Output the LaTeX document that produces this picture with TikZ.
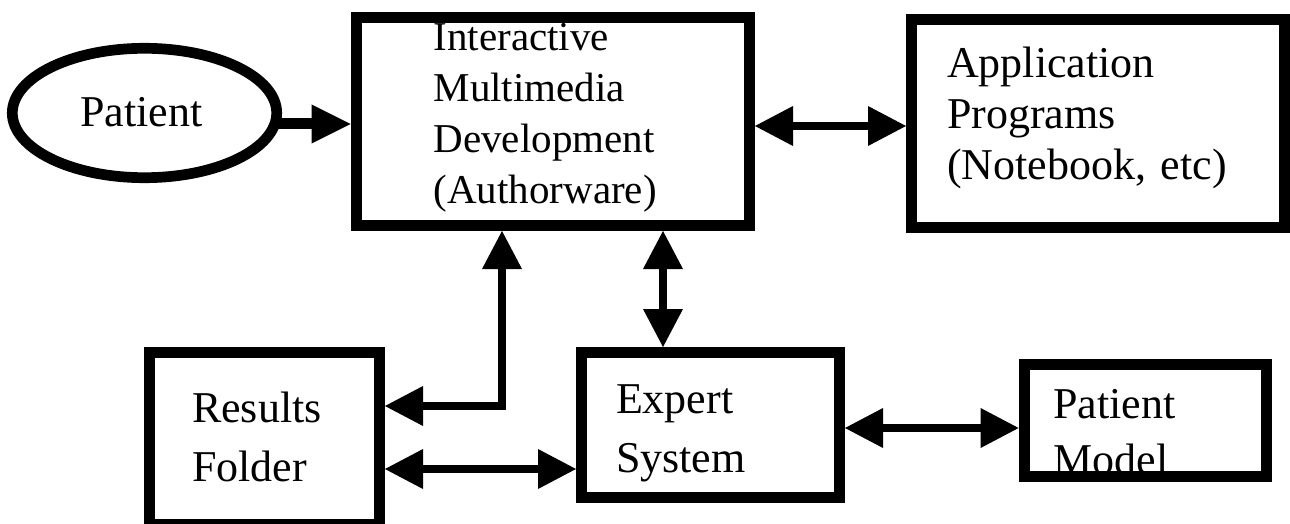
\documentclass[tikz,border=0pt]{standalone}
\usepackage{fontspec}
\setmainfont{Liberation Serif}
\usetikzlibrary{arrows.meta,shapes.geometric}

\tikzset{
  boxnode/.style={draw, rectangle, line width=11pt, inner sep=0pt},
  ovalnode/.style={draw, ellipse, line width=10.7pt, inner sep=0pt},
  txt/.style={inner sep=0pt, outer sep=0pt, align=left, text width=330pt, anchor=base west},
  conn/.style={line width=8.5pt, line join=miter,
    {Triangle[length=38pt,width=40pt,line width=0pt]}-{Triangle[length=38pt,width=40pt,line width=0pt]}},
  feed/.style={line width=11pt,
    -{Triangle[length=39pt,width=39pt,line width=0pt]}}
}

\begin{document}
\begin{tikzpicture}[x=1pt,y=-1pt]
\useasboundingbox (0,0) rectangle (1290,524);

% labels
\node[inner sep=0pt, anchor=base, font={\fontsize{44}{51}\selectfont}] (patienttext) at (141.5,127) {Patient};
\node[txt, font={\fontsize{41}{51}\selectfont}] (imdtext) at (433.6,51)
  {Interactive\\Multimedia\\Development\\(Authorware)};
\node[txt, font={\fontsize{44}{51}\selectfont}] (apptext) at (947,78)
  {Application\\Programs\\(Notebook, etc)};
\node[txt, font={\fontsize{44}{59}\selectfont}] (restext) at (192,422)
  {Results\\Folder};
\node[txt, font={\fontsize{44}{59}\selectfont}] (exptext) at (616,413)
  {Expert\\System};
\node[txt, font={\fontsize{44}{56}\selectfont}] (pmtext) at (1053.5,418)
  {Patient\\Model};

% shapes
\node[ovalnode, minimum width=264.4pt, minimum height=129.4pt] (patient) at (144.5,113) {};
\node[boxnode, minimum width=393.3pt, minimum height=208pt] (imd) at (552.85,121.5) {};
\node[boxnode, minimum width=373pt, minimum height=208pt] (app) at (1098,123.5) {};
\node[boxnode, minimum width=230pt, minimum height=172pt] (res) at (264.5,438.5) {};
\node[boxnode, minimum width=258pt, minimum height=145pt] (exp) at (710.5,425) {};
\node[boxnode, minimum width=242.4pt, minimum height=112pt] (pm) at (1145.3,420.5) {};

% connector guides
\coordinate (yA) at (0,124);
\coordinate (yB) at (0,126);
\coordinate (xC) at (663,0);
\coordinate (xD) at (502,0);
\coordinate (yD) at (0,406);
\coordinate (yE) at (0,469);
\coordinate (yF) at (0,428);

% connectors
\draw[feed] ([xshift=-4pt]patient.east |- yA) -- (imd.west |- yA);
\draw[conn] (imd.east |- yB) -- (app.west |- yB);
\draw[conn] (imd.south -| xC) -- (exp.north -| xC);
\draw[conn] (imd.south -| xD) |- (res.east |- yD);
\draw[conn] (res.east |- yE) -- (exp.west |- yE);
\draw[conn] (exp.east |- yF) -- (pm.west |- yF);
\end{tikzpicture}
\end{document}
